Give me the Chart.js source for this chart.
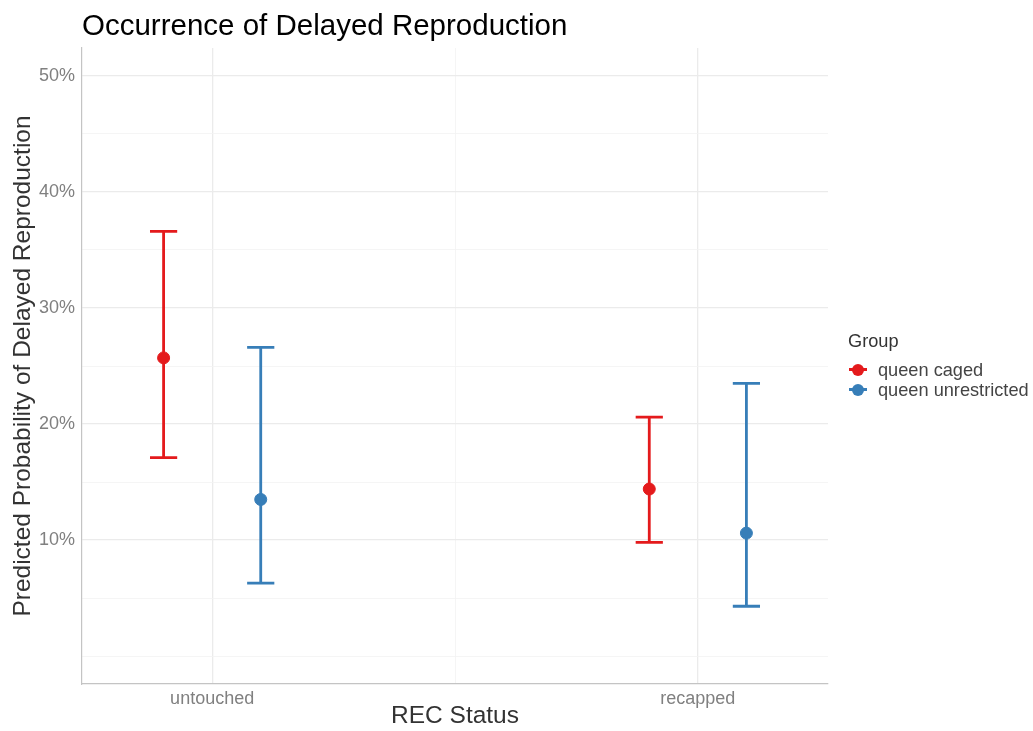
<!DOCTYPE html>
<html>
<head>
<meta charset="utf-8">
<script src="https://cdn.jsdelivr.net/npm/chart.js@4.4.0/dist/chart.umd.min.js"></script>
<style>
  body { margin: 0; background: #fff; font-family: "Liberation Sans", Arial, sans-serif; }
  #wrap { position: relative; width: 1033px; height: 731px; }
  #title { position: absolute; left: 82px; top: 8px; font-size: 29.5px; color: #000; }
  #legend { position: absolute; left: 848px; top: 331px; color: #444; font-size: 18.2px; }
  #legend .hd { color: #333; margin-bottom: 8px; }
  #legend .it { display: flex; align-items: center; height: 20px; }
  #legend .key { position: relative; width: 20px; height: 20px; margin-right: 10px; }
  #legend .key .ln { position: absolute; left: 1px; right: 1px; top: 8px; height: 3px; }
  #legend .key .dt { position: absolute; left: 4px; top: 4px; width: 12px; height: 12px; border-radius: 50%; }
</style>
</head>
<body>
<div id="wrap">
  <canvas id="chart-hasil" width="1033" height="731"></canvas>
  <div id="title">Occurrence of Delayed Reproduction</div>
  <div id="legend"></div>
</div>
<script>
// data (percent)
const kategori = ["untouched", "recapped"];
const grup = ["queen caged", "queen unrestricted"];
const warna = ["#E41A1C", "#377EB8"];
const estimasi = [[25.7, 14.4], [13.5, 10.6]];
const bawah = [[17.1, 9.8], [6.3, 4.3]];
const atas = [[36.6, 20.6], [26.6, 23.5]];
const yTicks = [0, 5, 10, 15, 20, 25, 30, 35, 40, 45, 50];

const dodge = 0.1;
const capW = 0.028;

let datasets = grup.map(function (g, gi) {
  return {
    label: g,
    data: kategori.map(function (k, ki) {
      return { x: ki + 1 + (gi === 0 ? -dodge : dodge), y: estimasi[gi][ki], lo: bawah[gi][ki], hi: atas[gi][ki] };
    }),
    backgroundColor: warna[gi],
    borderColor: warna[gi],
    pointRadius: 6,
    pointHoverRadius: 6,
    showLine: false,
  };
});

const errorBars = {
  id: "errorBars",
  beforeDatasetsDraw(chart) {
    const ctx = chart.ctx;
    const x = chart.scales.x;
    const y = chart.scales.y;
    chart.data.datasets.forEach(function (ds) {
      ctx.save();
      ctx.strokeStyle = ds.borderColor;
      ctx.lineWidth = 2.8;
      ds.data.forEach(function (p) {
        const px = x.getPixelForValue(p.x);
        const x0 = x.getPixelForValue(p.x - capW);
        const x1 = x.getPixelForValue(p.x + capW);
        const yl = y.getPixelForValue(p.lo);
        const yh = y.getPixelForValue(p.hi);
        ctx.beginPath();
        ctx.moveTo(px, yl); ctx.lineTo(px, yh);
        ctx.moveTo(x0, yl); ctx.lineTo(x1, yl);
        ctx.moveTo(x0, yh); ctx.lineTo(x1, yh);
        ctx.stroke();
      });
      ctx.restore();
    });
  },
};

const fontFam = '"Liberation Sans", Arial, sans-serif';
const ctx = document.getElementById("chart-hasil");
const chart = new Chart(ctx, {
  type: "scatter",
  data: { datasets: datasets },
  plugins: [errorBars],
  options: {
    responsive: false,
    animation: false,
    layout: { padding: { top: 48, right: 205, left: 0, bottom: 0 } },
    plugins: { legend: { display: false }, tooltip: { enabled: false } },
    scales: {
      x: {
        type: "linear",
        min: 0.732,
        max: 2.268,
        afterFit: function (s) { s.height = 47; },
        afterBuildTicks: function (s) { s.ticks = [{ value: 1 }, { value: 1.5 }, { value: 2 }]; },
        ticks: {
          autoSkip: false,
          maxRotation: 0,
          padding: 4,
          color: "#808080",
          font: { family: fontFam, size: 18 },
          callback: function (v) { return v === 1 ? kategori[0] : v === 2 ? kategori[1] : ""; },
        },
        grid: {
          drawTicks: false,
          color: function (c) { return c.tick && c.tick.value === 1.5 ? "#f2f2f2" : "#ebebeb"; },
          lineWidth: function (c) { return c.tick && c.tick.value === 1.5 ? 0.8 : 1.3; },
        },
        border: { display: true, color: "#c4c4c4", width: 1.2 },
        title: {
          display: true,
          text: "REC Status",
          color: "#333",
          font: { family: fontFam, size: 24.5 },
          padding: { top: 0, bottom: 0 },
        },
      },
      y: {
        min: -2.4,
        max: 52.4,
        afterFit: function (s) { s.width = 82; },
        afterBuildTicks: function (s) { s.ticks = yTicks.map(function (v) { return { value: v }; }); },
        ticks: {
          autoSkip: false,
          padding: 7,
          color: "#808080",
          font: { family: fontFam, size: 18 },
          callback: function (v) { return v > 0 && v % 10 === 0 ? v + "%" : ""; },
        },
        grid: {
          drawTicks: false,
          color: function (c) { return c.tick && c.tick.value % 10 === 0 && c.tick.value > 0 ? "#ebebeb" : "#f2f2f2"; },
          lineWidth: function (c) { return c.tick && c.tick.value % 10 === 0 && c.tick.value > 0 ? 1.3 : 0.8; },
        },
        border: { display: true, color: "#c4c4c4", width: 1.2 },
        title: {
          display: true,
          text: "Predicted Probability of Delayed Reproduction",
          color: "#333",
          font: { family: fontFam, size: 24.5 },
          padding: { top: 9, bottom: 0 },
        },
      },
    },
  },
});

// legend
let lg = '<div class="hd">Group</div>';
grup.forEach(function (g, i) {
  lg += '<div class="it"><span class="key"><span class="ln" style="background:' + warna[i] + '"></span>' +
    '<span class="dt" style="background:' + warna[i] + '"></span></span>' + g + '</div>';
});
document.getElementById("legend").innerHTML = lg;
</script>
</body>
</html>
